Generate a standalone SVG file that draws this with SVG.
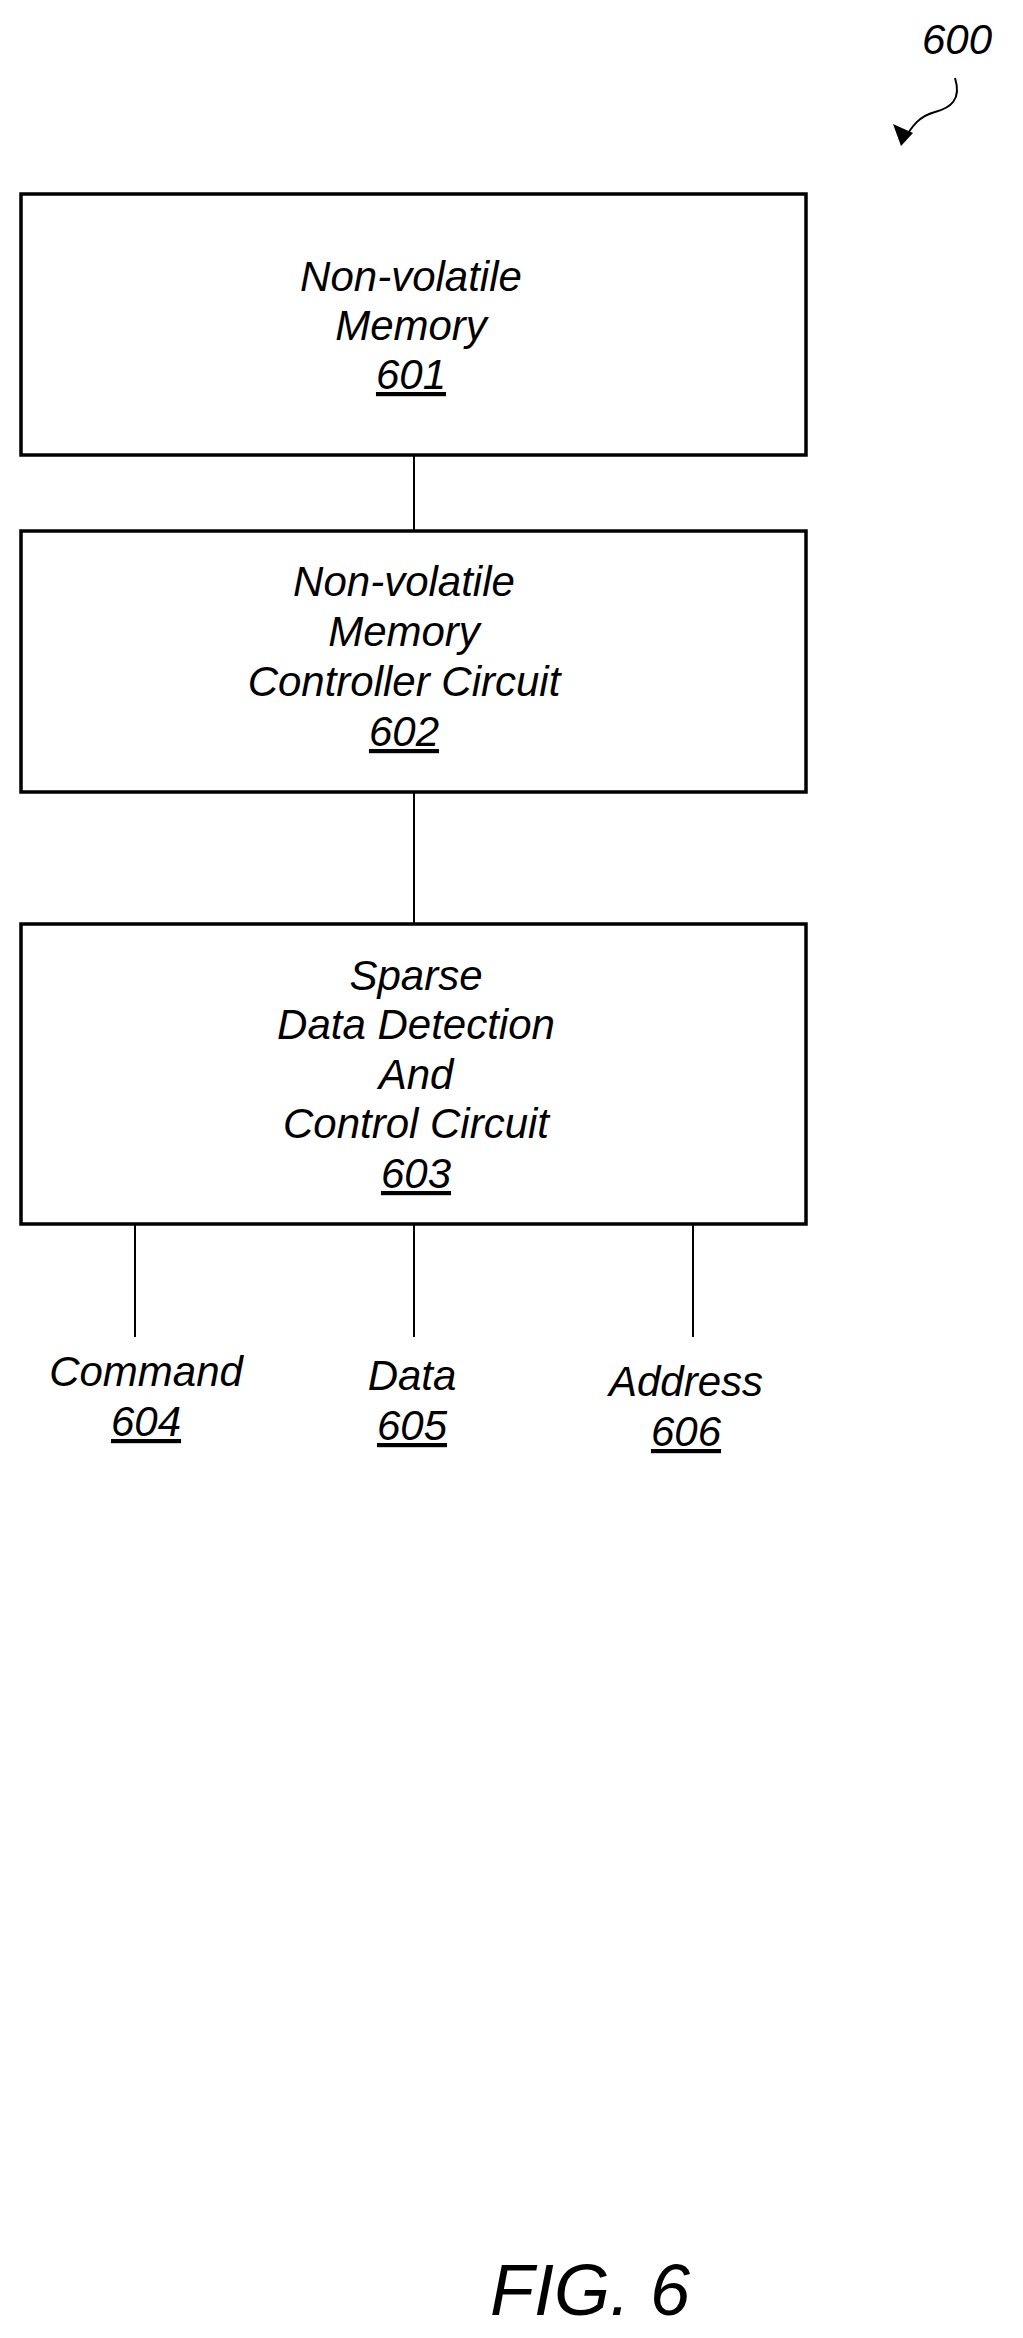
<svg xmlns="http://www.w3.org/2000/svg" width="1023" height="2338" viewBox="0 0 1023 2338">
<style>
text{font-family:"Liberation Sans",Arial,sans-serif;font-style:italic;font-size:42px;fill:#000;text-anchor:middle}
.box{fill:#fff;stroke:#000;stroke-width:3.5}
.ln{stroke:#000;stroke-width:2;fill:none}
</style>
<defs><marker id="ah" markerWidth="10" markerHeight="10" refX="8" refY="5" orient="auto" markerUnits="userSpaceOnUse" viewBox="0 0 10 10"><path d="M0,0 L10,5 L0,10 z" fill="#000"/></marker></defs>
<rect width="1023" height="2338" fill="#fff"/>
<g id="connectors">
<line class="ln" x1="414" y1="455" x2="414" y2="531"/>
<line class="ln" x1="414" y1="792" x2="414" y2="924"/>
<line class="ln" x1="135" y1="1224" x2="135" y2="1337"/>
<line class="ln" x1="414" y1="1224" x2="414" y2="1337"/>
<line class="ln" x1="693" y1="1224" x2="693" y2="1337"/>
</g>
<g id="ref600">
<text x="957" y="54">600</text>
<path d="M955,78 C962,100 950,108 935,112 C920,116 912,125 903,142" stroke="#000" stroke-width="2" fill="none"/>
<path d="M901,146 L893,124 L913,133 z" fill="#000"/>
</g>
<g id="n601">
<rect class="box" x="21" y="194" width="785" height="261"/>
<text x="411" y="291">Non-volatile</text>
<text x="411" y="340">Memory</text>
<text x="411" y="389" text-decoration="underline">601</text>
</g>
<g id="n602">
<rect class="box" x="21" y="531" width="785" height="261"/>
<text x="404" y="596">Non-volatile</text>
<text x="404" y="646">Memory</text>
<text x="404" y="696">Controller Circuit</text>
<text x="404" y="746" text-decoration="underline">602</text>
</g>
<g id="n603">
<rect class="box" x="21" y="924" width="785" height="300"/>
<text x="416" y="990">Sparse</text>
<text x="416" y="1039">Data Detection</text>
<text x="416" y="1089">And</text>
<text x="416" y="1138">Control Circuit</text>
<text x="416" y="1188" text-decoration="underline">603</text>
</g>
<g id="n604"><text x="146" y="1386">Command</text><text x="146" y="1436" text-decoration="underline">604</text></g>
<g id="n605"><text x="412" y="1390">Data</text><text x="412" y="1440" text-decoration="underline">605</text></g>
<g id="n606"><text x="686" y="1396">Address</text><text x="686" y="1446" text-decoration="underline">606</text></g>
<text x="590" y="2315" style="font-size:72px">FIG. 6</text>
</svg>
